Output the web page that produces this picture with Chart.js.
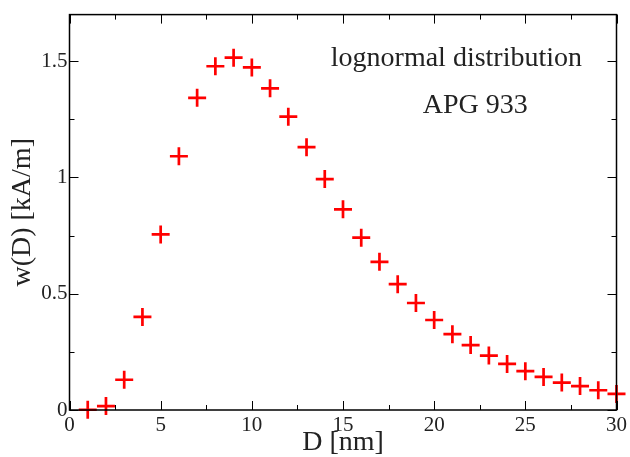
<!DOCTYPE html>
<html>
<head>
<meta charset="utf-8">
<script src="https://cdn.jsdelivr.net/npm/chart.js@4/dist/chart.umd.min.js"></script>
<style>
  html, body { margin: 0; padding: 0; background: #fff; }
  #wrap { width: 630px; height: 457px; }
</style>
</head>
<body>
<div id="wrap"><canvas id="lognormChart" width="630" height="457"></canvas></div>
<script>
// diameters D [nm]
const diameters = [1, 2, 3, 4, 5, 6, 7, 8, 9, 10, 11, 12, 13, 14, 15, 16, 17, 18, 19, 20,
  21, 22, 23, 24, 25, 26, 27, 28, 29, 30];
// w(D) [kA/m]
const weights = [0.001, 0.017, 0.13, 0.40, 0.755, 1.091, 1.342, 1.478, 1.515, 1.473,
  1.383, 1.261, 1.130, 0.993, 0.863, 0.741, 0.637, 0.541, 0.460, 0.387,
  0.326, 0.279, 0.234, 0.198, 0.167, 0.142, 0.118, 0.103, 0.085, 0.069];

const xTicks = [0, 5, 10, 15, 20, 25, 30];
const yTicks = [0, 0.5, 1, 1.5];
const labelLines = ['lognormal distribution', 'APG 933'];

const serif = '"Liberation Serif", "Times New Roman", serif';
const textColor = '#222';

// box with inward ticks on all four sides, like the original xmgrace plot
const frame = {
  id: 'frame',
  afterDraw(chart) {
    const { ctx, chartArea: a, scales: { x, y } } = chart;
    ctx.save();
    ctx.strokeStyle = '#000';
    ctx.lineWidth = 1;
    for (let v = 0; v <= 30; v += 2.5) {
      const px = Math.round(x.getPixelForValue(v)) + 0.5;
      const len = v % 5 === 0 ? 9 : 5;
      ctx.beginPath();
      ctx.moveTo(px, a.bottom); ctx.lineTo(px, a.bottom - len);
      ctx.moveTo(px, a.top); ctx.lineTo(px, a.top + len);
      ctx.stroke();
    }
    for (let v = 0; v <= 1.7; v += 0.25) {
      const py = Math.round(y.getPixelForValue(v)) + 0.5;
      const len = Math.abs(v % 0.5) < 1e-9 ? 9 : 5;
      ctx.beginPath();
      ctx.moveTo(a.left, py); ctx.lineTo(a.left + len, py);
      ctx.moveTo(a.right, py); ctx.lineTo(a.right - len, py);
      ctx.stroke();
    }
    ctx.lineWidth = 1.5;
    ctx.strokeRect(a.left, a.top, a.right - a.left, a.bottom - a.top);

    // annotation text
    ctx.fillStyle = textColor;
    ctx.textAlign = 'center';
    ctx.textBaseline = 'alphabetic';
    ctx.font = '28px ' + serif;
    ctx.fillText(labelLines[0], x.getPixelForValue(21.22), y.getPixelForValue(1.479));
    ctx.fillText(labelLines[1], x.getPixelForValue(22.25), y.getPixelForValue(1.275));
    ctx.restore();
  }
};

new Chart(document.getElementById('lognormChart'), {
  type: 'scatter',
  data: {
    datasets: [{
      data: diameters.map((d, i) => ({ x: d, y: weights[i] })),
      pointStyle: 'cross',
      pointRadius: 9,
      pointHoverRadius: 9,
      borderColor: '#ff0000',
      backgroundColor: '#ff0000',
      pointBorderWidth: 2.7,
      clip: false
    }]
  },
  options: {
    responsive: false,
    animation: false,
    events: [],
    layout: { padding: { top: 10, right: 10, left: 0, bottom: 0 } },
    plugins: { legend: { display: false }, tooltip: { enabled: false } },
    scales: {
      x: {
        type: 'linear',
        min: 0, max: 30,
        afterBuildTicks: s => { s.ticks = xTicks.map(v => ({ value: v })); },
        afterFit: s => { s.height = 47; },
        grid: { display: false, drawTicks: false },
        border: { display: false },
        ticks: { color: textColor, padding: 3, font: { family: serif, size: 21 },
          callback: v => String(v) },
        title: {
          display: true, text: 'D [nm]', color: textColor,
          font: { family: serif, size: 28, lineHeight: 1 }, padding: { top: 0, bottom: 0 }
        }
      },
      y: {
        type: 'linear',
        min: 0, max: 1.7,
        afterBuildTicks: s => { s.ticks = yTicks.map(v => ({ value: v })); },
        afterFit: s => { s.width = 69.5; },
        grid: { display: false, drawTicks: false },
        border: { display: false },
        ticks: { color: textColor, padding: 2, font: { family: serif, size: 21 },
          callback: v => String(v) },
        title: {
          display: true, text: 'w(D) [kA/m]', color: textColor,
          font: { family: serif, size: 28, lineHeight: 1 }, padding: { top: 9, bottom: 0 }
        }
      }
    }
  },
  plugins: [frame]
});
</script>
</body>
</html>
